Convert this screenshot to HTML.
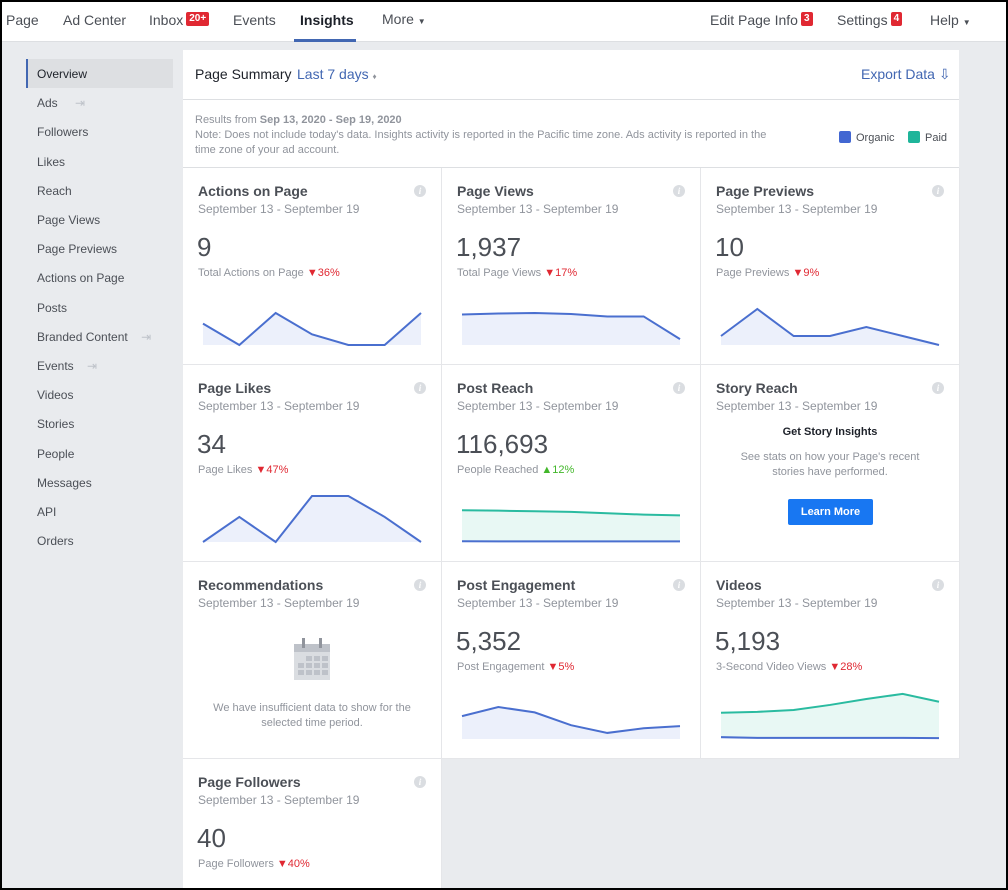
<!DOCTYPE html>
<html><head><meta charset="utf-8">
<style>
*{box-sizing:border-box;margin:0;padding:0}
body{width:1008px;height:890px;overflow:hidden;background:#000;font-family:"Liberation Sans",Arial,sans-serif;position:relative}
#frame{position:absolute;left:2px;top:2px;width:1004px;height:886px;background:#e9ebee;overflow:hidden}
.abs{position:absolute}
#nav{left:0;top:0;width:1004px;height:40px;background:#fff;border-bottom:1px solid #dddfe2}
.nv{position:absolute;top:10px;font-size:14px;color:#4b4f56;white-space:nowrap}
.badge{display:inline-block;background:#e02832;color:#fff;font-size:10px;font-weight:bold;padding:1px 3px;border-radius:2px;vertical-align:top;margin-left:3px;line-height:12px}
.side{position:absolute;left:35px;font-size:12px;color:#4b4f56}
.card{position:absolute;background:#fff;border-right:1px solid #e5e6e9;border-bottom:1px solid #e5e6e9}
.ct{position:absolute;left:15px;top:15px;font-size:14px;font-weight:bold;color:#4b4f56}
.cd{position:absolute;left:15px;top:34px;font-size:12px;color:#90949c}
.cn{position:absolute;left:14px;top:64px;font-size:26px;color:#4b4f56}
.cs{position:absolute;left:15px;top:99px;font-size:11px;color:#90949c;white-space:nowrap}
.dn{color:#e02832}.up{color:#42b72a}
.info{position:absolute;right:15px;top:17px;width:12px;height:12px;border-radius:6px;background:#dadde1;color:#fff;font-size:9px;font-style:italic;font-weight:bold;text-align:center;line-height:12px;font-family:"Liberation Serif",serif}
</style></head><body>
<div id="frame">
<div id="nav" class="abs">
 <div class="nv" style="left:4px">Page</div>
 <div class="nv" style="left:61px">Ad Center</div>
 <div class="nv" style="left:147px">Inbox<span class="badge">20+</span></div>
 <div class="nv" style="left:231px">Events</div>
 <div class="nv" style="left:298px;color:#1d2129;font-weight:bold">Insights</div>
 <div class="abs" style="left:292px;top:37px;width:62px;height:3px;background:#4267b2"></div>
 <div class="nv" style="left:380px;top:9px">More <span style="font-size:8px">▼</span></div>
 <div class="nv" style="left:708px">Edit Page Info<span class="badge">3</span></div>
 <div class="nv" style="left:835px">Settings<span class="badge">4</span></div>
 <div class="nv" style="left:928px">Help <span style="font-size:8px">▼</span></div>
</div>
<div class="abs" style="left:24px;top:57px;width:147px;height:29px;background:#dddfe2;border-left:2px solid #4267b2"></div>
<div id="sidebar"></div>

<div class="abs" style="left:181px;top:48px;width:776px;height:50px;background:#fff;border-bottom:1px solid #dddfe2">
 <div class="abs" style="left:12px;top:16px;font-size:14px;color:#1d2129">Page Summary</div>
 <div class="abs" style="left:114px;top:16px;font-size:14px;color:#4267b2">Last 7 days <span style="font-size:8px;color:#90949c">♦</span></div>
 <div class="abs" style="left:678px;top:16px;font-size:14px;color:#4267b2">Export Data <span style="font-size:14px">⇩</span></div>
</div>
<div class="abs" style="left:181px;top:98px;width:776px;height:68px;background:#fff;border-bottom:1px solid #dddfe2">
 <div class="abs" style="left:12px;top:13px;font-size:11px;color:#90949c;line-height:15px;width:588px">Results from <b>Sep 13, 2020 - Sep 19, 2020</b><br>Note: Does not include today's data. Insights activity is reported in the Pacific time zone. Ads activity is reported in the time zone of your ad account.</div>
 <div class="abs" style="left:656px;top:31px;font-size:11px;color:#4b4f56"><span style="display:inline-block;width:12px;height:12px;background:#4267d2;border-radius:2px;vertical-align:-2px;margin-right:5px"></span>Organic</div>
 <div class="abs" style="left:725px;top:31px;font-size:11px;color:#4b4f56"><span style="display:inline-block;width:12px;height:12px;background:#1fb59a;border-radius:2px;vertical-align:-2px;margin-right:5px"></span>Paid</div>
</div>
<div id="cards"></div>
</div>
<script>
const sideItems=["Overview","Ads","Followers","Likes","Reach","Page Views","Page Previews","Actions on Page","Posts","Branded Content","Events","Videos","Stories","People","Messages","API","Orders"];
const titles=["Actions on Page","Page Views","Page Previews","Page Likes","Post Reach","Story Reach","Recommendations","Post Engagement","Videos","Page Followers"];
const bigNumbers=["9","1,937","10","34","116,693","","","5,352","5,193","40"];
const subLabels=["Total Actions on Page","Total Page Views","Page Previews","Page Likes","People Reached","","","Post Engagement","3-Second Video Views","Page Followers"];
const changes=["36%","17%","9%","47%","12%","","","5%","28%","40%"];
const changeUp=[false,false,false,false,true,false,false,false,false,false];
const actionsOrganic=[2,0,3,1,0,0,3];
const viewsOrganic=[310,320,325,315,290,290,60];
const previewsOrganic=[1,4,1,1,2,1,0];
const likesOrganic=[0,6,0,11,11,6,0];
const reachPaid=[16000,15800,15500,15200,14500,13800,13400];
const reachOrganic=[350,340,330,330,320,340,330];
const engagementOrganic=[980,1370,1140,590,260,460,550];
const videosPaid=[570,590,630,740,870,980,810];
const videosOrganic=[40,25,25,25,25,25,20];
const S=document.getElementById('sidebar');
sideItems.forEach((t,i)=>{const d=document.createElement('div');d.className='side';d.style.top=(65+i*29.2)+'px';d.textContent=t;


if(t=="Ads"||t=="Branded Content"||t=="Events"){d.innerHTML=t+' <span style="color:#bec2c9;margin-left:'+(t=="Branded Content"?10:(t=="Ads"?14:10))+'px">⇥</span>';}
if(i==0)d.style.color='#1d2129';S.appendChild(d);});
const charts={0:[[actionsOrganic,null,1]],1:[[viewsOrganic,null,1]],2:[[previewsOrganic,null,1]],3:[[likesOrganic,null,1]],4:[[reachPaid,'paid',1.45],[reachOrganic,'org',1.45]],7:[[engagementOrganic,null,1]],8:[[videosPaid,'paid',1.02],[videosOrganic,'org',1.02]]};
const C=document.getElementById('cards');
const NS='http://www.w3.org/2000/svg';
titles.forEach((t,i)=>{
 const col=i%3,row=Math.floor(i/3);
 const card=document.createElement('div');card.className='card';
 card.style.left=(181+col*259)+'px';card.style.top=(166+row*197)+'px';card.style.width='259px';card.style.height=(row==3?140:197)+'px';
 
 
 let h='<div class="ct">'+t+'</div><div class="cd">September 13 - September 19</div><div class="info">i</div>';
 if(bigNumbers[i]){h+='<div class="cn">'+bigNumbers[i]+'</div><div class="cs">'+subLabels[i]+' <span class="'+(changeUp[i]?'up':'dn')+'">'+(changeUp[i]?'▲':'▼')+changes[i]+'</span></div>';}
 card.innerHTML=h;
 if(i==5){card.innerHTML+='<div class="abs" style="left:0;width:258px;top:61px;text-align:center;font-size:11px;font-weight:bold;color:#1d2129">Get Story Insights</div><div class="abs" style="left:30px;width:198px;top:85px;text-align:center;font-size:11px;color:#90949c;line-height:15px">See stats on how your Page\'s recent stories have performed.</div><div class="abs" style="left:87px;top:134px;width:85px;height:26px;background:#1877f2;color:#fff;font-size:11px;font-weight:bold;text-align:center;line-height:26px;border-radius:2px">Learn More</div>';}
 if(i==6){card.innerHTML+='<svg class="abs" style="left:110px;top:76px" width="38" height="42"><rect x="1" y="6" width="36" height="36" fill="#dadde1"/><rect x="1" y="6" width="36" height="8" fill="#bec2c9"/><g fill="#bec2c9"><rect x="13" y="18" width="6" height="5"/><rect x="21" y="18" width="6" height="5"/><rect x="29" y="18" width="6" height="5"/><rect x="5" y="25" width="6" height="5"/><rect x="13" y="25" width="6" height="5"/><rect x="21" y="25" width="6" height="5"/><rect x="29" y="25" width="6" height="5"/><rect x="5" y="32" width="6" height="5"/><rect x="13" y="32" width="6" height="5"/><rect x="21" y="32" width="6" height="5"/><rect x="29" y="32" width="6" height="5"/></g><rect x="9" y="0" width="3" height="10" fill="#90949c"/><rect x="26" y="0" width="3" height="10" fill="#90949c"/></svg><div class="abs" style="left:20px;width:218px;top:139px;text-align:center;font-size:11px;color:#90949c;line-height:15px">We have insufficient data to show for the selected time period.</div>';}
 if(charts[i]){
  const svg=document.createElementNS(NS,'svg');svg.setAttribute('width','259');svg.setAttribute('height','197');svg.style.position='absolute';svg.style.left='0';svg.style.top='0';
  
  
  const base=177, ht=(i==3||i==4||i==8)?46:(i==2?36:32);
  const xs=k=>20+k*(218/6);
  let mx=0;charts[i].forEach(s=>{mx=Math.max(mx,...s[0])});mx*=charts[i][0][2];
  const ys=v=>base-v/mx*ht;
  charts[i].forEach(s=>{
   const vals=s[0];const paid=s[1]=='paid';
   const pts=vals.map((v,k)=>xs(k)+','+ys(v)).join(' ');
   const area=document.createElementNS(NS,'polygon');
   area.setAttribute('points',xs(0)+','+base+' '+pts+' '+xs(vals.length-1)+','+base);
   area.setAttribute('fill',paid?'#e8f8f4':'#ecf0fb');
   
   
   svg.appendChild(area);
   const ln=document.createElementNS(NS,'polyline');
   ln.setAttribute('points',pts);ln.setAttribute('fill','none');ln.setAttribute('stroke',paid?'#2abba0':'#4a6fcf');ln.setAttribute('stroke-width','2');
   
   
   svg.appendChild(ln);
  });
  card.appendChild(svg);
 }
 C.appendChild(card);
});
</script>
</body></html>
